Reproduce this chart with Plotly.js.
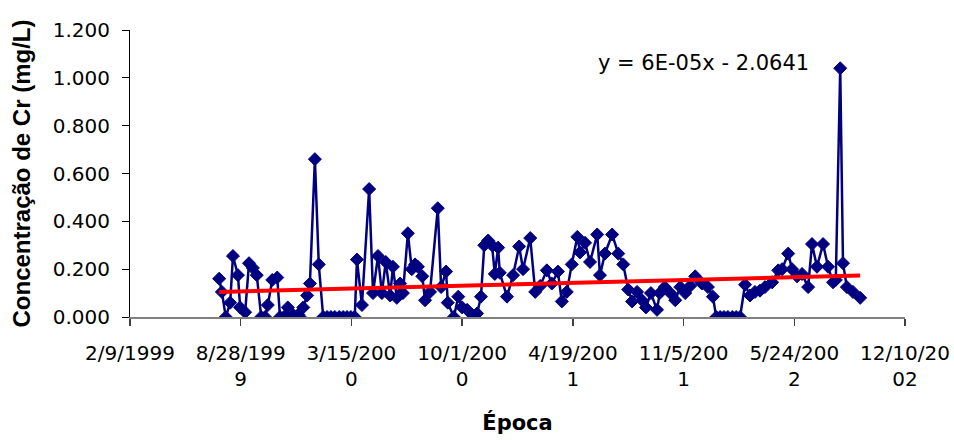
<!DOCTYPE html>
<html>
<head>
<meta charset="utf-8">
<script src="https://cdn.plot.ly/plotly-3.0.1.min.js"></script>
<style>html,body{margin:0;padding:0;background:#fff;}#chart{width:954px;height:443px;}</style>
</head>
<body>
<div id="chart"></div>
<script>
// Excel serial dates of the samples
const sampleDates = [
  36361,36366,36373,36381,36386,36395,36399,36408,36415,36422,36429,36437,36444,36449,36457,36466,
  36471,36478,36485,36494,36504,36507,36513,36520,36525,36534,36541,36549,36556,36563,36570,36578,
  36585,36592,36599,36606,36610,36619,36632,36639,36648,36655,36662,36670,36675,36682,36688,36693,
  36702,36709,36715,36720,36728,36733,36742,36756,36762,36771,36774,36785,36793,36800,36809,36818,
  36827,36834,36840,36847,36854,36859,36865,36868,36881,36892,36903,36910,36923,36932,36941,36953,
  36962,36973,36980,36989,36998,37008,37013,37022,37031,37044,37049,37058,37071,37082,37091,37100,
  37107,37116,37125,37132,37141,37152,37157,37166,37176,37185,37194,37203,37212,37221,37233,37244,
  37253,37259,37266,37273,37280,37288,37295,37302,37311,37320,37329,37338,37347,37360,37371,37378,
  37389,37396,37405,37414,37425,37432,37441,37452,37461,37470,37475,37483,37488,37495,37506,37519
];
// Cr concentration (mg/L)
const crValues = [
  0.160,0.105,0.000,0.060,0.255,0.175,0.040,0.020,0.225,0.205,0.175,0.000,0.000,0.050,0.155,0.165,
  0.000,0.000,0.040,0.010,0.010,0.000,0.040,0.090,0.140,0.660,0.220,0.000,0.000,0.000,0.000,0.000,
  0.000,0.000,0.000,0.000,0.240,0.050,0.535,0.100,0.255,0.100,0.230,0.090,0.210,0.080,0.140,0.100,
  0.350,0.200,0.220,0.210,0.170,0.070,0.105,0.455,0.125,0.190,0.060,0.000,0.085,0.040,0.030,0.010,
  0.015,0.085,0.300,0.320,0.300,0.180,0.290,0.185,0.085,0.175,0.295,0.200,0.330,0.105,0.130,0.195,
  0.140,0.190,0.065,0.105,0.220,0.335,0.270,0.310,0.230,0.345,0.175,0.265,0.345,0.265,0.220,0.115,
  0.065,0.105,0.070,0.040,0.100,0.030,0.100,0.125,0.100,0.070,0.125,0.100,0.130,0.170,0.140,0.125,
  0.085,0.000,0.000,0.000,0.000,0.000,0.000,0.000,0.135,0.090,0.105,0.110,0.125,0.145,0.195,0.200,
  0.265,0.200,0.170,0.180,0.125,0.305,0.210,0.305,0.210,0.145,0.155,1.040,0.225,0.125,0.105,0.080
];
// Linear trend line end points
const trendDates = [36361, 37519];
const trendValues = [0.105, 0.173];
const trendLabel = "y = 6E-05x - 2.0641";

// Axis ticks
const xTickVals = [36200,36400,36600,36800,37000,37200,37400,37600];
const xTickText = ["2/9/1999","8/28/199<br>9","3/15/200<br>0","10/1/200<br>0","4/19/200<br>1","11/5/200<br>1","5/24/200<br>2","12/10/20<br>02"];
const yTickVals = [0,0.2,0.4,0.6,0.8,1.0,1.2];
const yTickText = ["0.000","0.200","0.400","0.600","0.800","1.000","1.200"];

const navy = "#000080";
const data = [
  {
    x: sampleDates, y: crValues, type: "scatter", mode: "lines+markers",
    line: {color: navy, width: 2.5},
    marker: {symbol: "diamond", size: 10, color: navy, line: {color: navy, width: 1}},
    showlegend: false, hoverinfo: "x+y"
  },
  {
    x: trendDates, y: trendValues, type: "scatter", mode: "lines",
    line: {color: "#FF0000", width: 4},
    showlegend: false
  }
];

const tickFont = {family: "DejaVu Sans, Liberation Sans, Arial", size: 20, color: "#000"};
const layout = {
  width: 954, height: 443,
  margin: {l: 130, r: 49, t: 30, b: 126},
  paper_bgcolor: "#fff", plot_bgcolor: "#fff",
  showlegend: false,
  xaxis: {
    range: [36200, 37600], tickmode: "array", tickvals: xTickVals, ticktext: xTickText,
    showgrid: false, zeroline: false, showline: true, linecolor: "#808080", linewidth: 1.5,
    ticks: "outside", ticklen: 7, tickcolor: "#404040", tickwidth: 1.5,
    tickfont: tickFont, ticklabelstandoff: 10,
    title: {text: "Época", font: {family: "DejaVu Sans, Liberation Sans, Arial", size: 21, color: "#000", weight: "bold"}, standoff: 26}
  },
  yaxis: {
    range: [0, 1.2], tickmode: "array", tickvals: yTickVals, ticktext: yTickText,
    showgrid: false, zeroline: false, showline: true, linecolor: "#000", linewidth: 1,
    ticks: "outside", ticklen: 7, tickcolor: "#000", tickwidth: 1,
    tickfont: tickFont, ticklabelstandoff: 8,
    title: {text: "Concentração de Cr (mg/L)", font: {family: "Liberation Sans, Arial", size: 24, color: "#000", weight: "bold"}, standoff: 15}
  },
  annotations: [{
    xref: "x", yref: "y", x: 37042, y: 1.062, xanchor: "left", yanchor: "middle",
    text: trendLabel, showarrow: false,
    font: {family: "DejaVu Sans, Liberation Sans, Arial", size: 21, color: "#000"}
  }]
};

Plotly.newPlot("chart", data, layout, {displayModeBar: false, staticPlot: true});
</script>
</body>
</html>
